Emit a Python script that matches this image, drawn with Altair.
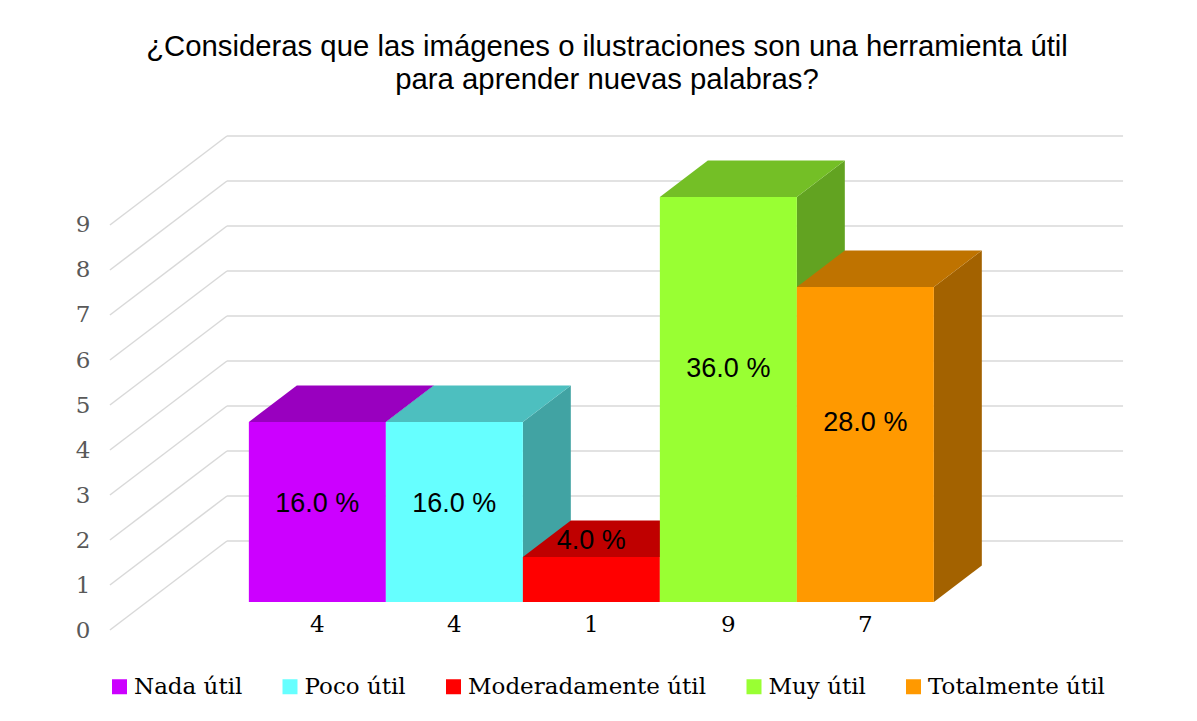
import altair as alt
import pandas as pd

# ---------------- data ----------------
categories = ["Nada útil", "Poco útil", "Moderadamente útil", "Muy útil", "Totalmente útil"]
counts = [4, 4, 1, 9, 7]
percents = [16.0, 16.0, 4.0, 36.0, 28.0]
y_ticks = [0, 1, 2, 3, 4, 5, 6, 7, 8, 9]
title_lines = ["¿Consideras que las imágenes o ilustraciones son una herramienta útil",
               "para aprender nuevas palabras?"]

# ---------------- styles ----------------
front_colors = ["#CC00FF", "#66FFFF", "#FF0000", "#99FF33", "#FF9900"]
top_colors = ["#9900BF", "#4DBFBF", "#BF0000", "#74BF26", "#BF7300"]
side_colors = ["#8200A3", "#41A3A3", "#A30000", "#62A321", "#A36200"]
grid_color = "#D9D9D9"

# oblique projection (in scale units): full wall depth shift
WX, WY = 0.854, 1.978
Z0 = 0.315      # depth fraction of bar front plane
BD = 0.41       # bar depth fraction
FX, FY = Z0 * WX, Z0 * WY
DX, DY = BD * WX, BD * WY
WALL_X0 = -0.745
WALL_X_END = 6.65

XDOM = [-0.8175, 6.7737]
YDOM = [-0.4444, 11.3333]

Y_AXIS = alt.Axis(values=y_ticks, domain=False, ticks=False, grid=False,
                  labelFont="DejaVu Serif", labelFontSize=23, labelColor="#595959",
                  labelPadding=10, title=None)


def xs(field):
    return alt.X(field, type="quantitative", scale=alt.Scale(domain=XDOM, nice=False, zero=False), axis=None)


def ys(field):
    return alt.Y(field, type="quantitative", scale=alt.Scale(domain=YDOM, nice=False, zero=False), axis=Y_AXIS)


# ---------------- derived tables ----------------
front_rows, top_rows, side_rows, label_rows = [], [], [], []
for i, (c, v, p) in enumerate(zip(categories, counts, percents)):
    L = i + FX
    R = i + 1 + FX
    b0 = FY
    b = FY + v
    front_rows.append({"cat": c, "x": L, "x2": R, "y": b0, "y2": b})
    for px, lo, hi in [(L, b, b), (L + DX, b, b + DY), (R, b, b + DY), (R + DX, b + DY, b + DY)]:
        top_rows.append({"cat": c, "col": top_colors[i], "x": px, "lo": lo, "hi": hi})
    for px, lo, hi in [(R, b0, b), (R + DX, b0 + DY, b + DY)]:
        side_rows.append({"cat": c, "col": side_colors[i], "x": px, "lo": lo, "hi": hi})
    label_rows.append({"cat": c, "cx": (L + R) / 2, "base": b0, "count": str(v),
                       "pct": f"{p:.1f} %", "ly": b0 + max(0.6 * v - 0.22, 1.35)})

front_df = pd.DataFrame(front_rows)
top_df = pd.DataFrame(top_rows)
side_df = pd.DataFrame(side_rows)
label_df = pd.DataFrame(label_rows)
wall_df = pd.DataFrame({"v": y_ticks})
wall_df["x"] = WALL_X0
wall_df["x2"] = WALL_X0 + WX
wall_df["yb"] = wall_df["v"] + WY
wall_df["xe"] = WALL_X_END

# ---------------- layers ----------------
diag = alt.Chart(wall_df).mark_rule(color=grid_color, strokeWidth=1.5).encode(
    x=xs("x"), x2="x2", y=ys("v"), y2="yb",
)
back = alt.Chart(wall_df).mark_rule(color=grid_color, strokeWidth=1.5).encode(
    x=xs("x2"), x2="xe", y=ys("yb"),
)
side = alt.Chart(side_df).mark_area(interpolate="linear").encode(
    x=xs("x"), y=ys("lo"), y2="hi",
    fill=alt.Fill("col:N", scale=None), detail="cat:N",
)
top = alt.Chart(top_df).mark_area(interpolate="linear").encode(
    x=xs("x"), y=ys("lo"), y2="hi",
    fill=alt.Fill("col:N", scale=None), detail="cat:N",
)
front = alt.Chart(front_df).mark_rect().encode(
    x=xs("x"), x2="x2", y=ys("y"), y2="y2",
    color=alt.Color("cat:N", scale=alt.Scale(domain=categories, range=front_colors),
                    legend=alt.Legend(title=None, orient="none", legendX=8, legendY=555,
                                      direction="horizontal", columns=5,
                                      symbolType="square", symbolSize=225, symbolStrokeWidth=0,
                                      labelFont="DejaVu Serif", labelFontSize=23, labelColor="#000000",
                                      labelOffset=3, columnPadding=35.5, labelLimit=400)),
)
pct_text = alt.Chart(label_df).mark_text(font="Liberation Sans", fontSize=27, color="#000000",
                                         baseline="middle", align="center").encode(
    x=xs("cx"), y=ys("ly"), text="pct:N",
)
cnt_text = alt.Chart(label_df).mark_text(font="DejaVu Serif", fontSize=23, color="#000000",
                                         baseline="middle", align="center", dy=23).encode(
    x=xs("cx"), y=ys("base"), text="count:N",
)

chart = alt.layer(diag, back, side, top, front, pct_text, cnt_text).properties(
    width=1040, height=530,
    padding={"left": 92, "top": 112, "right": 40, "bottom": 60},
    autosize=alt.AutoSizeParams(type="none"),
    background="white",
    title=alt.TitleParams(text=title_lines, font="Liberation Sans", fontSize=29.3, fontWeight="normal",
                          color="#000000", anchor="middle", frame="group", offset=25,
                          lineHeight=33, dx=-13),
).configure_view(strokeWidth=0)

chart.save("out.html", embed_options={"renderer": "svg", "actions": False})
